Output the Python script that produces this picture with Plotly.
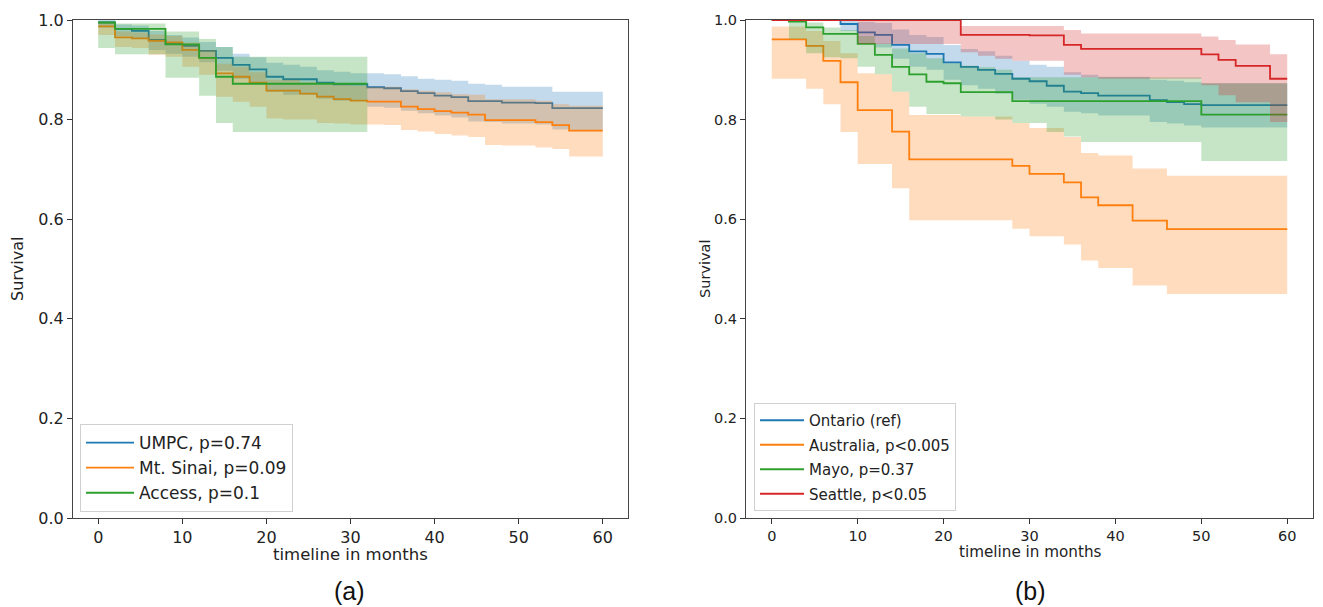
import plotly.graph_objects as go

# ---------------- data: panel (a) ----------------
months_a = list(range(0, 60, 2))          # step start times (months)
end_a = 60
umpc = [0.995, 0.982, 0.978, 0.960, 0.953, 0.948, 0.938, 0.924, 0.910, 0.901,
        0.886, 0.881, 0.881, 0.874, 0.871, 0.871, 0.865, 0.863, 0.857, 0.853,
        0.848, 0.845, 0.837, 0.837, 0.834, 0.834, 0.833, 0.823, 0.823, 0.823]
umpc_hi = [1.0, 0.991, 0.989, 0.978, 0.970, 0.965, 0.956, 0.946, 0.932, 0.925,
           0.914, 0.910, 0.906, 0.899, 0.896, 0.893, 0.893, 0.891, 0.887, 0.882,
           0.880, 0.878, 0.872, 0.870, 0.866, 0.866, 0.866, 0.856, 0.856, 0.856]
umpc_lo = [0.985, 0.968, 0.962, 0.940, 0.932, 0.926, 0.915, 0.898, 0.882, 0.873,
           0.856, 0.850, 0.850, 0.842, 0.838, 0.838, 0.826, 0.824, 0.818, 0.813,
           0.808, 0.804, 0.796, 0.795, 0.792, 0.792, 0.790, 0.780, 0.779, 0.779]
sinai = [0.987, 0.965, 0.963, 0.958, 0.955, 0.940, 0.924, 0.893, 0.886, 0.874,
         0.858, 0.858, 0.852, 0.846, 0.841, 0.838, 0.836, 0.836, 0.826, 0.821,
         0.817, 0.814, 0.810, 0.799, 0.799, 0.799, 0.795, 0.789, 0.778, 0.778]
sinai_hi = [0.995, 0.977, 0.975, 0.971, 0.968, 0.955, 0.940, 0.912, 0.906, 0.895,
            0.880, 0.880, 0.875, 0.870, 0.870, 0.868, 0.866, 0.866, 0.861, 0.858,
            0.855, 0.851, 0.850, 0.841, 0.841, 0.841, 0.838, 0.831, 0.828, 0.828]
sinai_lo = [0.970, 0.946, 0.944, 0.930, 0.926, 0.906, 0.890, 0.846, 0.836, 0.826,
            0.802, 0.800, 0.800, 0.793, 0.792, 0.790, 0.790, 0.789, 0.779, 0.776,
            0.771, 0.768, 0.765, 0.749, 0.748, 0.748, 0.744, 0.741, 0.726, 0.726]
months_access = list(range(0, 32, 2))
end_access = 32
access = [0.995, 0.982, 0.982, 0.982, 0.951, 0.951, 0.924, 0.886,
          0.872, 0.872, 0.872, 0.872, 0.872, 0.872, 0.872, 0.872]
access_hi = [0.998, 0.993, 0.993, 0.993, 0.977, 0.977, 0.962, 0.946,
             0.926, 0.926, 0.926, 0.926, 0.926, 0.926, 0.926, 0.926]
access_lo = [0.944, 0.931, 0.931, 0.931, 0.884, 0.884, 0.848, 0.793,
             0.775, 0.775, 0.775, 0.775, 0.775, 0.775, 0.775, 0.775]

# ---------------- data: panel (b) ----------------
months_b = list(range(0, 60, 2))
end_b = 60
ontario = [1.0, 1.0, 1.0, 1.0, 0.992, 0.975, 0.970, 0.950, 0.937, 0.932,
           0.915, 0.906, 0.900, 0.892, 0.882, 0.877, 0.868, 0.856, 0.853, 0.848,
           0.848, 0.848, 0.839, 0.835, 0.831, 0.829, 0.829, 0.829, 0.829, 0.829]
ontario_hi = [1.0, 1.0, 1.0, 1.0, 1.0, 0.996, 0.994, 0.981, 0.970, 0.966,
              0.950, 0.942, 0.937, 0.928, 0.918, 0.910, 0.906, 0.895, 0.890, 0.886,
              0.886, 0.886, 0.880, 0.878, 0.875, 0.873, 0.873, 0.873, 0.873, 0.873]
ontario_lo = [1.0, 1.0, 1.0, 1.0, 0.978, 0.952, 0.945, 0.922, 0.906, 0.900,
              0.880, 0.869, 0.862, 0.852, 0.840, 0.832, 0.826, 0.816, 0.813, 0.808,
              0.808, 0.808, 0.795, 0.792, 0.788, 0.784, 0.784, 0.784, 0.784, 0.784]
australia = [0.961, 0.961, 0.948, 0.918, 0.875, 0.819, 0.819, 0.776, 0.720, 0.720,
             0.720, 0.720, 0.720, 0.720, 0.707, 0.691, 0.691, 0.674, 0.644, 0.628,
             0.628, 0.597, 0.597, 0.580, 0.580, 0.580, 0.580, 0.580, 0.580, 0.580]
australia_hi = [0.987, 0.987, 0.978, 0.958, 0.933, 0.893, 0.891, 0.856, 0.809, 0.809,
                0.809, 0.806, 0.806, 0.806, 0.793, 0.783, 0.783, 0.765, 0.733, 0.728,
                0.728, 0.702, 0.702, 0.687, 0.687, 0.687, 0.687, 0.687, 0.687, 0.687]
australia_lo = [0.882, 0.882, 0.862, 0.831, 0.775, 0.711, 0.711, 0.662, 0.598, 0.598,
                0.598, 0.598, 0.598, 0.598, 0.581, 0.566, 0.566, 0.549, 0.517, 0.502,
                0.502, 0.467, 0.467, 0.450, 0.450, 0.450, 0.450, 0.450, 0.450, 0.450]
mayo = [1.0, 0.997, 0.985, 0.972, 0.972, 0.952, 0.930, 0.906, 0.891, 0.876,
        0.873, 0.855, 0.855, 0.855, 0.837, 0.837, 0.837, 0.837, 0.837, 0.837,
        0.837, 0.837, 0.837, 0.837, 0.837, 0.810, 0.810, 0.810, 0.810, 0.810]
mayo_hi = [1.0, 1.0, 0.995, 0.985, 0.980, 0.968, 0.953, 0.943, 0.933, 0.923,
           0.913, 0.908, 0.905, 0.900, 0.885, 0.885, 0.885, 0.885, 0.885, 0.885,
           0.885, 0.885, 0.885, 0.885, 0.885, 0.873, 0.873, 0.873, 0.873, 0.873]
mayo_lo = [1.0, 0.962, 0.933, 0.925, 0.923, 0.906, 0.891, 0.856, 0.826, 0.811,
           0.811, 0.806, 0.806, 0.800, 0.793, 0.793, 0.775, 0.766, 0.755, 0.755,
           0.755, 0.755, 0.755, 0.755, 0.755, 0.717, 0.717, 0.717, 0.717, 0.717]
seattle = [1.0, 1.0, 1.0, 1.0, 1.0, 1.0, 1.0, 1.0, 1.0, 1.0,
           1.0, 0.970, 0.970, 0.970, 0.970, 0.969, 0.969, 0.950, 0.942, 0.942,
           0.942, 0.942, 0.942, 0.942, 0.942, 0.931, 0.920, 0.908, 0.908, 0.882]
seattle_hi = [1.0, 1.0, 1.0, 1.0, 1.0, 1.0, 1.0, 1.0, 1.0, 1.0,
              1.0, 0.988, 0.988, 0.988, 0.988, 0.988, 0.988, 0.980, 0.973, 0.973,
              0.973, 0.973, 0.973, 0.973, 0.973, 0.967, 0.960, 0.951, 0.951, 0.931]
seattle_lo = [1.0, 1.0, 1.0, 1.0, 1.0, 0.952, 0.952, 0.952, 0.952, 0.952,
              0.952, 0.935, 0.928, 0.922, 0.918, 0.918, 0.918, 0.890, 0.885, 0.882,
              0.882, 0.882, 0.882, 0.882, 0.882, 0.869, 0.849, 0.835, 0.835, 0.795]

labels_a = ["UMPC, p=0.74", "Mt. Sinai, p=0.09", "Access, p=0.1"]
labels_b = ["Ontario (ref)", "Australia, p<0.005", "Mayo, p=0.37", "Seattle, p<0.05"]
x_ticks = [0, 10, 20, 30, 40, 50, 60]
y_ticks = [0, 0.2, 0.4, 0.6, 0.8, 1.0]
colors = ["#1f77b4", "#ff7f0e", "#2ca02c", "#d62728"]
fills = ["rgba(31,119,180,0.27)", "rgba(255,127,14,0.27)",
         "rgba(44,160,44,0.27)", "rgba(214,39,40,0.27)"]

W, H = 1323, 607
fig = go.Figure()


def add_km(starts, end, vals, lo, hi, name, ci, xa, ya, legend, group):
    x = list(starts) + [end]
    y = list(vals) + [vals[-1]]
    yl = list(lo) + [lo[-1]]
    yh = list(hi) + [hi[-1]]
    c = colors[ci]
    fig.add_trace(go.Scatter(x=x, y=yh, mode="lines", line=dict(width=0, shape="hv", color=c),
                             showlegend=False, hoverinfo="skip", xaxis=xa, yaxis=ya,
                             legendgroup=group))
    fig.add_trace(go.Scatter(x=x, y=yl, mode="lines", line=dict(width=0, shape="hv", color=c),
                             fill="tonexty", fillcolor=fills[ci], showlegend=False,
                             hoverinfo="skip", xaxis=xa, yaxis=ya, legendgroup=group))
    fig.add_trace(go.Scatter(x=x, y=y, mode="lines", line=dict(width=1.8, shape="hv", color=c),
                             name=name, xaxis=xa, yaxis=ya, legend=legend, legendgroup=group))


add_km(months_a, end_a, umpc, umpc_lo, umpc_hi, labels_a[0], 0, "x", "y", "legend", "a0")
add_km(months_a, end_a, sinai, sinai_lo, sinai_hi, labels_a[1], 1, "x", "y", "legend", "a1")
add_km(months_access, end_access, access, access_lo, access_hi, labels_a[2], 2, "x", "y", "legend", "a2")

add_km(months_b, end_b, ontario, ontario_lo, ontario_hi, labels_b[0], 0, "x2", "y2", "legend2", "b0")
add_km(months_b, end_b, australia, australia_lo, australia_hi, labels_b[1], 1, "x2", "y2", "legend2", "b1")
add_km(months_b, end_b, mayo, mayo_lo, mayo_hi, labels_b[2], 2, "x2", "y2", "legend2", "b2")
add_km(months_b, end_b, seattle, seattle_lo, seattle_hi, labels_b[3], 3, "x2", "y2", "legend2", "b3")

FONT = "DejaVu Sans"
ydom = [1 - 518 / H, 1 - 20 / H]


def xax(dom, size, anchor):
    return dict(domain=dom, range=[-3, 63], tickvals=x_ticks,
                ticks="outside", ticklen=5, tickwidth=1, tickcolor="#333",
                showline=True, mirror=True, linecolor="#444", linewidth=1,
                showgrid=False, zeroline=False, anchor=anchor, automargin=False,
                tickfont=dict(family=FONT, size=size, color="#222"))


def yax(size, anchor):
    return dict(domain=ydom, range=[0, 1], tickvals=y_ticks,
                tickformat=".1f", ticks="outside", ticklen=5, tickwidth=1, tickcolor="#333",
                showline=True, mirror=True, linecolor="#444", linewidth=1,
                showgrid=False, zeroline=False, anchor=anchor, automargin=False,
                tickfont=dict(family=FONT, size=size, color="#222"))


fig.update_layout(
    template="none",
    width=W, height=H, margin=dict(l=0, r=0, t=0, b=0, autoexpand=False),
    paper_bgcolor="white", plot_bgcolor="white",
    xaxis=xax([73 / W, 628 / W], 16, "y"),
    yaxis=yax(16, "x"),
    xaxis2=xax([746 / W, 1313 / W], 14.5, "y2"),
    yaxis2=yax(14.5, "x2"),
    legend=dict(x=80 / W, y=1 - 512 / H, xanchor="left", yanchor="bottom",
                bgcolor="rgba(255,255,255,0.85)", bordercolor="#d0d0d0", borderwidth=1,
                font=dict(family=FONT, size=17, color="#222"), traceorder="grouped",
                tracegroupgap=0, itemwidth=48),
    legend2=dict(x=754 / W, y=1 - 511 / H, xanchor="left", yanchor="bottom",
                 bgcolor="rgba(255,255,255,0.85)", bordercolor="#d0d0d0", borderwidth=1,
                 font=dict(family=FONT, size=15, color="#222"), traceorder="grouped",
                 tracegroupgap=2, itemwidth=44),
    showlegend=True,
)

ann = [
    dict(text="Survival", x=17 / W, y=1 - 269 / H, textangle=-90, size=16),
    dict(text="Survival", x=705 / W, y=1 - 269 / H, textangle=-90, size=14.5),
    dict(text="timeline in months", x=350 / W, y=1 - 554 / H, textangle=0, size=16.5),
    dict(text="timeline in months", x=1030 / W, y=1 - 552 / H, textangle=0, size=15.2),
]
for a in ann:
    fig.add_annotation(text=a["text"], x=a["x"], y=a["y"], xref="paper", yref="paper",
                       showarrow=False, textangle=a["textangle"], xanchor="center",
                       yanchor="middle", font=dict(family=FONT, size=a["size"], color="#222"))
for t, xc in [("(a)", 349), ("(b)", 1030)]:
    fig.add_annotation(text=t, x=xc / W, y=1 - 591 / H, xref="paper", yref="paper",
                       showarrow=False, xanchor="center", yanchor="middle",
                       font=dict(family="Liberation Sans", size=25, color="#111"))

fig.write_html(
    "out.html",
    config={"displayModeBar": False},
    post_script="document.body.style.margin='0';document.body.style.overflow='hidden';",
)
